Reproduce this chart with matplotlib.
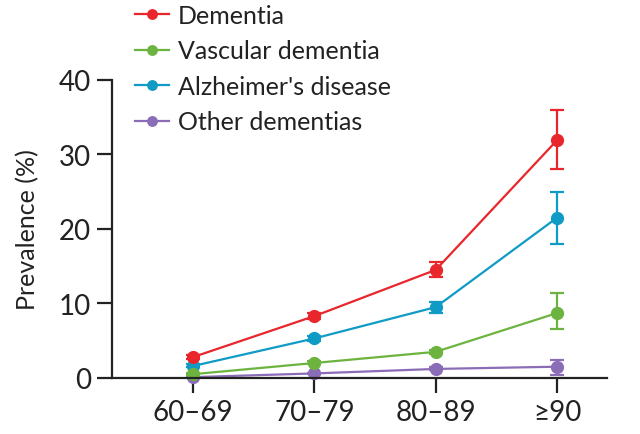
import numpy as np
import matplotlib
matplotlib.use("Agg")
import matplotlib.pyplot as plt

plt.rcParams["font.family"] = ["Lato", "DejaVu Sans"]

# age groups and prevalence (%) with error bar bounds
age_groups = ["60–69", "70–79", "80–89", "≥90"]

dementia = [2.8, 8.3, 14.5, 31.9]
dementia_lo = [2.5, 7.9, 13.6, 28.0]
dementia_hi = [3.1, 8.7, 15.6, 36.0]

vascular = [0.5, 2.0, 3.5, 8.7]
vascular_lo = [0.4, 1.8, 3.2, 6.6]
vascular_hi = [0.6, 2.2, 3.8, 11.4]

alzheimers = [1.6, 5.3, 9.5, 21.5]
alzheimers_lo = [1.4, 5.0, 8.7, 18.0]
alzheimers_hi = [1.8, 5.6, 10.2, 25.0]

other = [0.1, 0.6, 1.2, 1.5]
other_lo = [0.05, 0.5, 1.0, 0.4]
other_hi = [0.15, 0.7, 1.4, 2.4]

series = [
    ("Dementia", dementia, dementia_lo, dementia_hi, "#e8262b"),
    ("Vascular dementia", vascular, vascular_lo, vascular_hi, "#6cb33f"),
    ("Alzheimer's disease", alzheimers, alzheimers_lo, alzheimers_hi, "#0f9bc5"),
    ("Other dementias", other, other_lo, other_hi, "#8b6cb6"),
]

fig = plt.figure(figsize=(6.4, 4.35), dpi=100)
ax = fig.add_axes([0.175, 0.129, 0.773, 0.685])

x = np.arange(len(age_groups))
handles = []
# draw bottom series first so red sits on top
for name, vals, lo, hi, col in reversed(series):
    vals = np.array(vals)
    yerr = [vals - np.array(lo), np.array(hi) - vals]
    h = ax.errorbar(x, vals, yerr=yerr, color=col, marker="o", markersize=8.5,
                    linewidth=1.6, elinewidth=1.6, capsize=5, capthick=1.6,
                    clip_on=False, label=name)
    handles.append(h)

ax.set_xlim(-0.67, 3.41)
ax.set_ylim(0, 40)
ax.set_yticks([0, 10, 20, 30, 40])
ax.set_xticks(x)
ax.set_xticklabels(age_groups)
ax.tick_params(axis="both", labelsize=20, width=1.6, length=11, color="#222222",
               labelcolor="#222222")
ax.tick_params(axis="x", pad=4)
ax.tick_params(axis="y", pad=4)
ax.set_ylabel("Prevalence (%)", fontsize=18, labelpad=14, color="#222222")
for s in ["top", "right"]:
    ax.spines[s].set_visible(False)
for s in ["left", "bottom"]:
    ax.spines[s].set_linewidth(1.6)
    ax.spines[s].set_color("#222222")

handles = handles[::-1]
leg = fig.legend(handles=[h.lines[0] for h in handles],
                 labels=[s[0] for s in series],
                 loc="upper left", bbox_to_anchor=(0.211, 0.989),
                 frameon=False, fontsize=18, handlelength=1.35,
                 handletextpad=0.35, labelspacing=0.5, markerscale=0.8,
                 borderpad=0, borderaxespad=0)
for t in leg.get_texts():
    t.set_color("#222222")

fig.savefig("out.png", dpi=100)
